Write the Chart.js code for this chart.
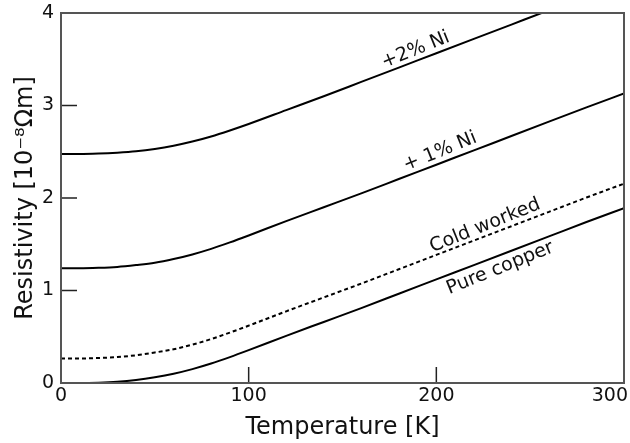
<!DOCTYPE html>
<html>
<head>
<meta charset="utf-8">
<script src="https://cdn.jsdelivr.net/npm/chart.js@4.4.1/dist/chart.umd.min.js"></script>
<style>
  html, body { margin: 0; padding: 0; background: #fff; }
  #wrap { width: 630px; height: 443px; }
</style>
</head>
<body>
<div id="wrap"><canvas id="chart" width="630" height="443"></canvas></div>
<script>
// Temperature grid [K]
const temps = [0, 10, 20, 30, 40, 50, 60, 70, 80, 90, 100, 120, 140, 160, 180, 200, 220, 240, 260, 280, 300];

// Resistivity [10^-8 Ohm m]
const pureCopper = [0, 0.0, 0.004, 0.014, 0.033, 0.062, 0.10, 0.15, 0.21, 0.28, 0.355, 0.51, 0.66, 0.81, 0.965, 1.12, 1.275, 1.43, 1.585, 1.74, 1.89];
const coldWorked = [0.265, 0.265, 0.27, 0.28, 0.30, 0.33, 0.365, 0.415, 0.475, 0.545, 0.62, 0.775, 0.925, 1.075, 1.23, 1.385, 1.54, 1.695, 1.85, 2.005, 2.155];
const nickel1 = [1.24, 1.24, 1.245, 1.255, 1.275, 1.30, 1.34, 1.39, 1.45, 1.52, 1.595, 1.75, 1.90, 2.05, 2.205, 2.36, 2.515, 2.67, 2.825, 2.98, 3.13];
const nickel2 = [2.475, 2.475, 2.48, 2.49, 2.505, 2.53, 2.565, 2.61, 2.665, 2.73, 2.80, 2.95, 3.10, 3.255, 3.41, 3.565, 3.72, 3.875, 4.03, 4.18, 4.33];

const xTicks = [0, 100, 200, 300];
const yTicks = [0, 1, 2, 3, 4];

// Curve labels (placed in data coordinates)
const curveLabels = [
  { text: "+2% Ni", t: 189, r: 3.60 },
  { text: "+ 1% Ni", t: 202, r: 2.50 },
  { text: "Cold worked", t: 226, r: 1.70 },
  { text: "Pure copper", t: 234, r: 1.24 },
];

const FONT = "DejaVu Sans";
Chart.defaults.font.family = FONT;

function toPoints(vals) {
  return temps.map((t, i) => ({ x: t, y: vals[i] }));
}

function lineSet(label, vals, dash) {
  return {
    label,
    data: toPoints(vals),
    borderColor: "#000",
    borderWidth: 2,
    borderDash: dash || [],
    pointRadius: 0,
    fill: false,
    cubicInterpolationMode: "monotone",
  };
}

// Frame, inward ticks, x tick labels and curve labels
const decorPlugin = {
  id: "decor",
  afterDatasetsDraw(chart) {
    const { ctx, chartArea: a, scales: { x, y } } = chart;
    ctx.save();

    // inward ticks
    ctx.strokeStyle = "#222";
    ctx.lineWidth = 1.5;
    ctx.beginPath();
    xTicks.forEach((v) => {
      const px = x.getPixelForValue(v);
      ctx.moveTo(px, a.bottom);
      ctx.lineTo(px, a.bottom - 16);
    });
    yTicks.forEach((v) => {
      const py = y.getPixelForValue(v);
      ctx.moveTo(a.left, py);
      ctx.lineTo(a.left + 16, py);
    });
    ctx.stroke();

    // frame
    ctx.strokeStyle = "#555";
    ctx.lineWidth = 2;
    ctx.strokeRect(a.left, a.top, a.right - a.left, a.bottom - a.top);

    // x tick labels, kept inside the canvas
    ctx.fillStyle = "#111";
    ctx.font = `19px "${FONT}"`;
    ctx.textAlign = "center";
    ctx.textBaseline = "top";
    xTicks.forEach((v) => {
      const s = String(v);
      const w = ctx.measureText(s).width;
      const px = Math.min(x.getPixelForValue(v), chart.width - 2 - w / 2);
      ctx.fillText(s, px, a.bottom + 4);
    });

    // curve labels
    ctx.font = `19px "${FONT}"`;
    ctx.textBaseline = "middle";
    curveLabels.forEach((l) => {
      ctx.save();
      ctx.translate(x.getPixelForValue(l.t), y.getPixelForValue(l.r));
      ctx.rotate((-22 * Math.PI) / 180);
      ctx.fillText(l.text, 0, 0);
      ctx.restore();
    });

    ctx.restore();
  },
};

new Chart(document.getElementById("chart"), {
  type: "line",
  data: {
    datasets: [
      lineSet("+2% Ni", nickel2),
      lineSet("+ 1% Ni", nickel1),
      lineSet("Cold worked", coldWorked, [4, 3]),
      lineSet("Pure copper", pureCopper),
    ],
  },
  options: {
    responsive: false,
    animation: false,
    layout: { padding: { top: 13, right: 6, left: 0, bottom: 0 } },
    plugins: { legend: { display: false }, tooltip: { enabled: false } },
    scales: {
      x: {
        type: "linear",
        min: 0,
        max: 300,
        grid: { display: false, drawTicks: false },
        border: { display: false },
        ticks: { display: false, stepSize: 100 },
        title: {
          display: true,
          text: "Temperature [K]",
          color: "#111",
          font: { size: 24 },
          padding: { top: 0, bottom: 1 },
        },
        afterFit(s) {
          s.height = 60;
          s.paddingLeft = 0;
          s.paddingRight = 0;
        },
      },
      y: {
        min: 0,
        max: 4,
        grid: { display: false, drawTicks: false },
        border: { display: false },
        ticks: { stepSize: 1, padding: 7, color: "#111", font: { size: 19 } },
        title: {
          display: true,
          text: "Resistivity [10⁻⁸Ωm]",
          color: "#111",
          font: { size: 24 },
          padding: { top: 11, bottom: 0 },
        },
        afterFit(s) {
          s.width = 61;
          s.paddingTop = 0;
          s.paddingBottom = 0;
        },
      },
    },
  },
  plugins: [decorPlugin],
});
</script>
</body>
</html>
